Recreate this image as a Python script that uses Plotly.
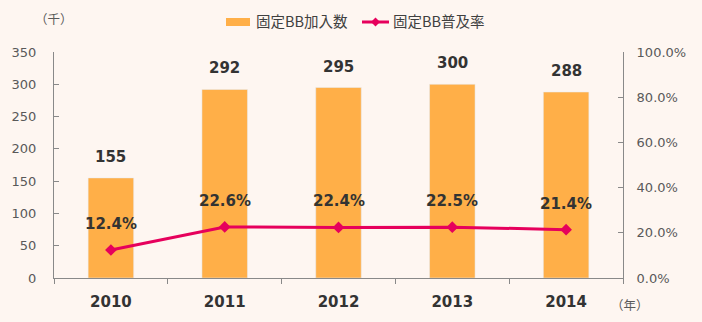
import plotly.graph_objects as go

years = [2010, 2011, 2012, 2013, 2014]
subscribers = [155, 292, 295, 300, 288]          # 固定BB加入数 (千)
penetration = [12.4, 22.6, 22.4, 22.5, 21.4]      # 固定BB普及率 (%)
left_ticks = [0, 50, 100, 150, 200, 250, 300, 350]
right_ticks = [0, 20, 40, 60, 80, 100]

BG = "#FEF6F1"
BAR = "#FFAF48"
LINE = "#E6005C"
AXIS = "#898989"
TXT = "#333333"
TICK = "#595959"
NUMFONT = "DejaVu Sans, Noto Sans CJK JP"
JPFONT = "Noto Sans CJK JP"

W, H = 702, 322
ML, MR, MT, MB = 54, 79, 52, 44
PW, PH = W - ML - MR, H - MT - MB


def px(x):
    return (x - ML) / PW


def py(y):
    return (H - MB - y) / PH


fig = go.Figure()
fig.add_trace(go.Bar(x=years, y=subscribers, marker_color=BAR, width=0.4,
                     name="固定BB加入数", showlegend=False, hoverinfo="skip"))
fig.add_trace(go.Scatter(x=years, y=penetration, yaxis="y2", mode="lines+markers",
                         line=dict(color=LINE, width=3),
                         marker=dict(symbol="diamond", size=9, color=LINE),
                         name="固定BB普及率", showlegend=False))

annotations = []
for yr, v in zip(years, subscribers):
    annotations.append(dict(x=yr, y=v, xref="x", yref="y", text=str(v), showarrow=False,
                            yshift=21, font=dict(family=NUMFONT, size=15, color=TXT, weight="bold"),
                            xanchor="center", yanchor="middle"))
for yr, v in zip(years, penetration):
    annotations.append(dict(x=yr, y=v, xref="x", yref="y2", text=f"{v:.1f}%", showarrow=False,
                            yshift=26, font=dict(family=NUMFONT, size=15, color=TXT, weight="bold"),
                            xanchor="center", yanchor="middle"))
# unit labels
annotations.append(dict(x=px(54), y=py(18), xref="paper", yref="paper", text="（千）",
                        showarrow=False, xanchor="center", yanchor="middle",
                        font=dict(family=JPFONT, size=12.5, color=TICK)))
annotations.append(dict(x=px(630), y=py(304), xref="paper", yref="paper", text="（年）",
                        showarrow=False, xanchor="center", yanchor="middle",
                        font=dict(family=JPFONT, size=12.5, color=TICK)))
# legend texts
annotations.append(dict(x=px(254), y=py(21), xref="paper", yref="paper", text="固定BB加入数",
                        showarrow=False, xanchor="left", yanchor="middle",
                        font=dict(family=JPFONT, size=14.5, color="#404040")))
annotations.append(dict(x=px(391), y=py(21), xref="paper", yref="paper", text="固定BB普及率",
                        showarrow=False, xanchor="left", yanchor="middle",
                        font=dict(family=JPFONT, size=14.5, color="#404040")))

cx, cy, d = 375.5, 22, 4.5
shapes = [
    dict(type="rect", xref="paper", yref="paper", x0=px(226), x1=px(250), y0=py(26), y1=py(18),
         fillcolor=BAR, line=dict(width=0)),
    dict(type="line", xref="paper", yref="paper", x0=px(362), x1=px(389), y0=py(22), y1=py(22),
         line=dict(color=LINE, width=3)),
    dict(type="path", xref="paper", yref="paper",
         path=f"M {px(cx - d)},{py(cy)} L {px(cx)},{py(cy - d)} L {px(cx + d)},{py(cy)} L {px(cx)},{py(cy + d)} Z",
         fillcolor=LINE, line=dict(width=0)),
]

boundaries = [y - 0.5 for y in years] + [years[-1] + 0.5]

fig.update_layout(
    width=W, height=H,
    margin=dict(l=ML, r=MR, t=MT, b=MB),
    paper_bgcolor=BG, plot_bgcolor=BG,
    showlegend=False,
    annotations=annotations,
    shapes=shapes,
    xaxis=dict(range=[years[0] - 0.5, years[-1] + 0.5], tickvals=years,
               ticktext=[str(y) for y in years],
               showline=True, linecolor=AXIS, linewidth=1,
               ticks="", showgrid=False, zeroline=False, ticklabelstandoff=10,
               minor=dict(tickvals=boundaries, ticks="outside", ticklen=5, tickcolor=AXIS,
                          showgrid=False),
               tickfont=dict(family=NUMFONT, size=15, color=TXT, weight="bold")),
    yaxis=dict(range=[0, 350], tickvals=left_ticks, showline=True, linecolor=AXIS, linewidth=1,
               ticks="inside", ticklen=5, tickcolor=AXIS, showgrid=False, zeroline=False,
               ticklabelstandoff=14,
               tickfont=dict(family=NUMFONT, size=13, color=TICK)),
    yaxis2=dict(range=[0, 100], tickvals=right_ticks, ticktext=[f"{t:.1f}%" for t in right_ticks],
                overlaying="y", side="right", showline=True, linecolor=AXIS, linewidth=1,
                ticks="inside", ticklen=5, tickcolor=AXIS, showgrid=False, zeroline=False,
                ticklabelstandoff=10,
                tickfont=dict(family=NUMFONT, size=13, color=TICK)),
)

fig.write_html("out.html")
